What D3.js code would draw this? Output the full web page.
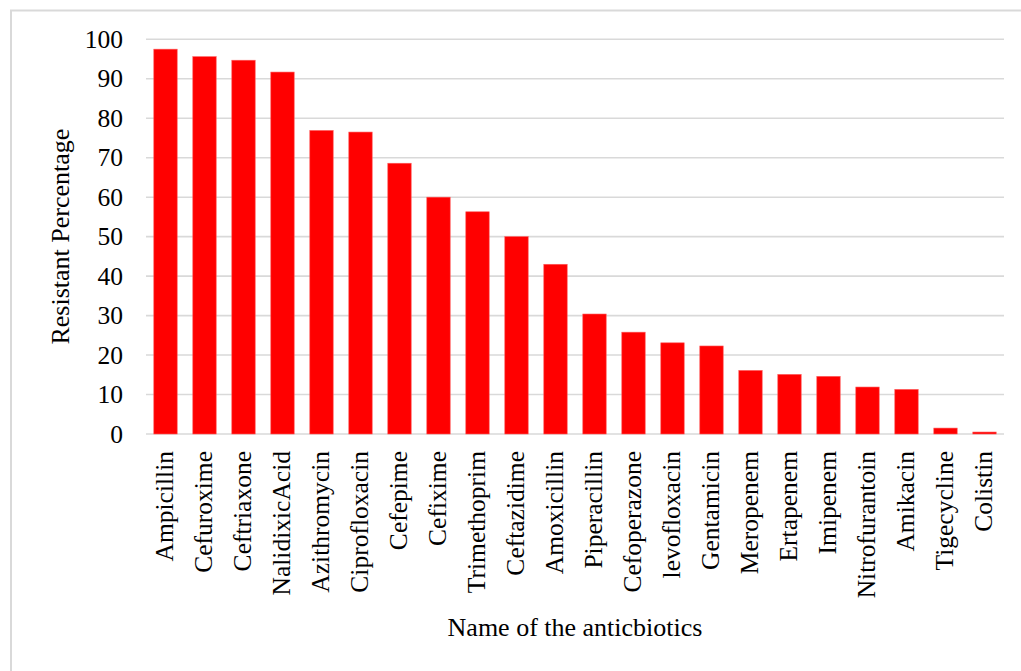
<!DOCTYPE html>
<html>
<head>
<meta charset="utf-8">
<script src="https://cdn.jsdelivr.net/npm/d3@7"></script>
<style>
  html, body { margin: 0; padding: 0; background: #fff; }
  svg { display: block; }
  text { font-family: "Liberation Serif", "Times New Roman", serif; fill: #000; }
</style>
</head>
<body>
<svg id="chart" width="1021" height="671"></svg>
<script>
// Antibiotic names, in chart order
const antibiotics = [
  "Ampicillin", "Cefuroxime", "Ceftriaxone", "NalidixicAcid", "Azithromycin",
  "Ciprofloxacin", "Cefepime", "Cefixime", "Trimethoprim", "Ceftazidime",
  "Amoxicillin", "Piperacillin", "Cefoperazone", "levofloxacin", "Gentamicin",
  "Meropenem", "Ertapenem", "Imipenem", "Nitrofurantoin", "Amikacin",
  "Tigecycline", "Colistin"
];

// Percentage of isolates resistant to each antibiotic
const resistance = [
  97.5, 95.6, 94.7, 91.7, 76.9,
  76.5, 68.6, 60.0, 56.3, 50.0,
  43.0, 30.4, 25.8, 23.1, 22.3,
  16.1, 15.1, 14.6, 11.9, 11.3,
  1.5, 0.5
];

// Value axis ticks
const yTicks = [0, 10, 20, 30, 40, 50, 60, 70, 80, 90, 100];

const serif = '"Liberation Serif", "Times New Roman", serif';
const svg = d3.select("#chart");

// Light frame around the chart area
svg.append("rect")
  .attr("x", 11).attr("y", 10.5)
  .attr("width", 1030).attr("height", 700)
  .attr("fill", "none")
  .attr("stroke", "#d9d9d9")
  .attr("stroke-width", 2);

const plot = { left: 146, right: 1004, top: 39.3, bottom: 434 };

const x = d3.scaleBand()
  .domain(antibiotics)
  .range([plot.left, plot.right])
  .paddingInner(0.4)
  .paddingOuter(0.2);

const y = d3.scaleLinear()
  .domain([0, 100])
  .range([plot.bottom, plot.top]);

// Horizontal gridlines
svg.append("g")
  .selectAll("line")
  .data(yTicks)
  .join("line")
  .attr("x1", plot.left)
  .attr("x2", plot.right)
  .attr("y1", d => y(d))
  .attr("y2", d => y(d))
  .attr("stroke", "#d9d9d9")
  .attr("stroke-width", 1.6);

// Bars
svg.append("g")
  .selectAll("rect")
  .data(antibiotics.map((name, i) => ({ name, value: resistance[i] })))
  .join("rect")
  .attr("x", d => x(d.name))
  .attr("width", x.bandwidth())
  .attr("y", d => y(d.value))
  .attr("height", d => y(0) - y(d.value))
  .attr("fill", "#ff0000")
  .attr("stroke", "#ff5a5a")
  .attr("stroke-width", 0.6);

// Left axis: tick labels only
const yAxis = svg.append("g")
  .attr("transform", `translate(${plot.left},0)`)
  .call(d3.axisLeft(y).tickValues(yTicks).tickSize(0).tickPadding(23))
  .attr("font-family", serif)
  .attr("font-size", 25.5);
yAxis.select(".domain").remove();
yAxis.selectAll("text")
  .style("font-family", serif)
  .attr("fill", "#000");

// Bottom axis: rotated category labels
const xAxis = svg.append("g")
  .attr("transform", `translate(0,${plot.bottom})`)
  .call(d3.axisBottom(x).tickSize(0).tickPadding(0))
  .attr("font-family", serif)
  .attr("font-size", 25.5);
xAxis.select(".domain").remove();
xAxis.selectAll(".tick text")
  .style("font-family", serif)
  .attr("fill", "#000")
  .attr("text-anchor", "end")
  .attr("x", 0)
  .attr("y", 0)
  .attr("dy", "0.3em")
  .attr("transform", "translate(0,17) rotate(-90)");

// Axis titles
svg.append("text")
  .attr("transform", `translate(69,${(plot.top + plot.bottom) / 2}) rotate(-90)`)
  .attr("text-anchor", "middle")
  .style("font-family", serif)
  .style("font-size", "26px")
  .text("Resistant Percentage");

svg.append("text")
  .attr("x", (plot.left + plot.right) / 2)
  .attr("y", 636)
  .attr("text-anchor", "middle")
  .style("font-family", serif)
  .style("font-size", "26px")
  .text("Name of the anticbiotics");
</script>
</body>
</html>
